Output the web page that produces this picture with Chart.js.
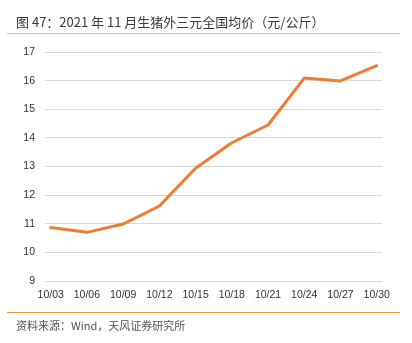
<!DOCTYPE html>
<html><head><meta charset="utf-8">
<script src="https://cdn.jsdelivr.net/npm/chart.js@4"></script>
<style>
html,body{margin:0;padding:0;background:#fff;}
#wrap{position:relative;width:412px;height:343px;overflow:hidden;}
#c{position:absolute;left:0;top:0;}
.title{position:absolute;left:16px;top:12px;font:13px "Noto Sans CJK SC","Noto Sans",sans-serif;color:#3a3a3a;white-space:nowrap;}
.tline{position:absolute;left:7px;width:393px;top:33px;height:1px;background:#f7b47c;}
.bline{position:absolute;left:7px;width:393px;top:312px;height:1px;background:#f0923a;}
.src{position:absolute;left:16px;top:317px;font:11px "Noto Sans CJK SC","Noto Sans",sans-serif;color:#555;white-space:nowrap;}
</style></head>
<body><div id="wrap">
<canvas id="c" width="412" height="343"></canvas>
<div class="title">图 47：2021 年 11 月生猪外三元全国均价（元/公斤）</div>
<div class="tline"></div>
<div class="bline"></div>
<div class="src">资料来源：Wind，天风证券研究所</div>
</div>
<script>
const categories = ["10/03","10/06","10/09","10/12","10/15","10/18","10/21","10/24","10/27","10/30"];
const prices = [10.87, 10.70, 10.99, 11.62, 12.94, 13.83, 14.45, 16.09, 15.99, 16.52];
const yTicks = [9,10,11,12,13,14,15,16,17];

const pts = prices.map((v,i)=>({x:i,y:v}));
new Chart(document.getElementById('c'), {
  type:'line',
  data:{datasets:[{data:pts,borderColor:'#ed7d31',borderWidth:3,pointRadius:0,tension:0,fill:false,borderJoinStyle:'round',borderCapStyle:'round'}]},
  options:{
    responsive:false,animation:false,
    layout:{padding:{left:0,right:30,top:52,bottom:42}},
    plugins:{legend:{display:false},tooltip:{enabled:false}},
    scales:{
      x:{type:'linear',min:-0.157,max:9.146,
        afterBuildTicks:s=>{s.ticks=categories.map((c,i)=>({value:i}));},
        afterFit:s=>{s.height=20;},
        grid:{display:false,drawTicks:false},border:{display:false},
        ticks:{padding:8,color:'#333',font:{family:'Liberation Sans',size:10.5},maxRotation:0,autoSkip:false,
          callback:v=>categories[v]}},
      y:{min:9,max:17,
        afterBuildTicks:s=>{s.ticks=yTicks.map(v=>({value:v}));},
        afterFit:s=>{s.width=45;},
        grid:{color:'#d9d9d9',lineWidth:1,drawTicks:false},border:{display:false},
        ticks:{padding:10,color:'#333',font:{family:'Liberation Sans',size:10.5}}}
    }
  }
});
</script>
</body></html>
